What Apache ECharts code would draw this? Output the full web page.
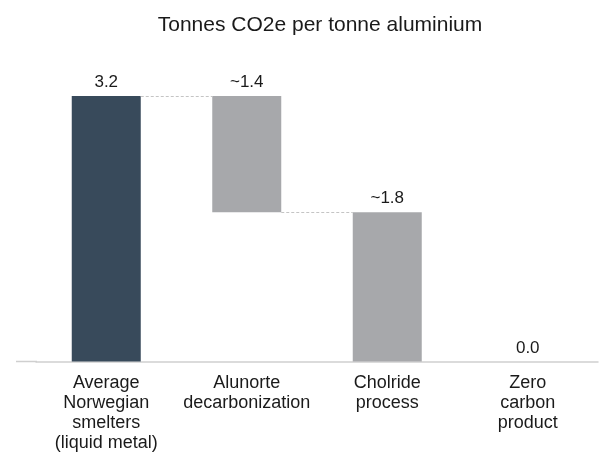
<!DOCTYPE html>
<html><head><meta charset="utf-8">
<script src="https://cdn.jsdelivr.net/npm/echarts@6/dist/echarts.min.js"></script>
<style>html,body{margin:0;padding:0;background:#fff}#c{width:601px;height:460px}</style>
</head><body><div id="c"></div>
<script>
var categories = ['Average\nNorwegian\nsmelters\n(liquid metal)', 'Alunorte\ndecarbonization', 'Cholride\nprocess', 'Zero\ncarbon\nproduct'];
var baseValues = [0, 1.8, 0, 0];
var barValues = [3.2, 1.4, 1.8, 0];
var valueLabels = ['3.2', '~1.4', '~1.8', '0.0'];
var barColors = ['#384a5b', '#a7a8ab', '#a7a8ab', '#a7a8ab'];
var connFrom = [0, 1];
var connTo = [1, 2];
var connLevel = [3.2, 1.8];

var BAR_W = 69;
var chart = echarts.init(document.getElementById('c'), null, {renderer: 'canvas'});
var font = 'Liberation Sans, Arial, Helvetica, sans-serif';
chart.setOption({
  animation: false,
  title: {
    text: 'Tonnes CO2e per tonne aluminium',
    left: 315, top: 10, textAlign: 'center',
    textStyle: {fontFamily: font, fontSize: 21, fontWeight: 'normal', color: '#1a1a1a'}
  },
  graphic: [{type: 'line', shape: {x1: 16, y1: 361.5, x2: 37, y2: 361.5}, style: {stroke: '#cfcfcf', lineWidth: 1.5}}],
  grid: {left: 36, right: 3, top: 96, bottom: 98.5},
  xAxis: {
    type: 'category', data: categories,
    axisTick: {show: false},
    axisLine: {lineStyle: {color: '#cfcfcf', width: 1.5}},
    axisLabel: {interval: 0, margin: 12, fontFamily: font, fontSize: 18, lineHeight: 20, color: '#1a1a1a'}
  },
  yAxis: {type: 'value', min: 0, max: 3.2, show: false, splitLine: {show: false}},
  series: [
    {
      type: 'bar', stack: 'w', z: 2, barWidth: BAR_W,
      itemStyle: {color: 'transparent'},
      data: baseValues
    },
    {
      type: 'bar', stack: 'w', z: 3, barWidth: BAR_W,
      data: barValues.map(function (v, i) { return {value: v, itemStyle: {color: barColors[i]}}; }),
      label: {
        show: true, position: 'top', distance: 5,
        fontFamily: font, fontSize: 17, color: '#1a1a1a',
        formatter: function (p) { return valueLabels[p.dataIndex]; }
      }
    },
    {
      type: 'custom', z: 4, silent: true,
      data: connFrom.map(function (f, i) { return [f, connTo[i], connLevel[i]]; }),
      renderItem: function (params, api) {
        var a = api.coord([api.value(0), api.value(2)]);
        var b = api.coord([api.value(1), api.value(2)]);
        return {
          type: 'line',
          shape: {x1: a[0] + BAR_W / 2, y1: Math.round(a[1]) + 0.5, x2: b[0] - BAR_W / 2, y2: Math.round(a[1]) + 0.5},
          style: {stroke: '#c4c4c4', lineWidth: 1, lineDash: [3, 2]}
        };
      }
    }
  ]
});
</script></body></html>
